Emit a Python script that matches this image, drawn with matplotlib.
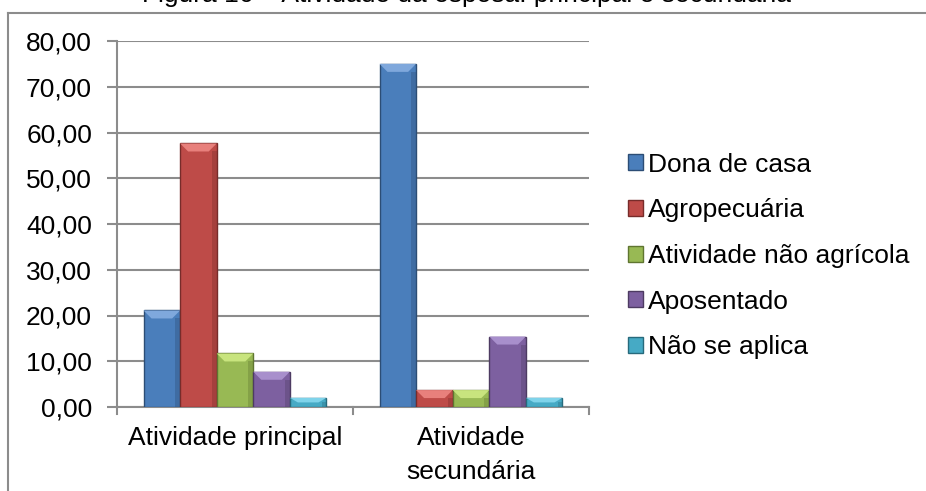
import matplotlib
matplotlib.use("Agg")
from matplotlib import pyplot as plt
from matplotlib.patches import Rectangle, Polygon
from matplotlib.lines import Line2D
import numpy as np

# dados
categorias = ["Atividade principal", "Atividade\nsecundária"]
series = ["Dona de casa", "Agropecuária", "Atividade não agrícola", "Aposentado", "Não se aplica"]
dona_de_casa = [21.1, 75.0]
agropecuaria = [57.6, 3.7]
nao_agricola = [11.7, 3.7]
aposentado = [7.7, 15.4]
nao_se_aplica = [2.0, 2.0]
valores = [dona_de_casa, agropecuaria, nao_agricola, aposentado, nao_se_aplica]
y_ticks = [0, 10, 20, 30, 40, 50, 60, 70, 80]

cores = ["#4A7EBB", "#BE4B48", "#98B954", "#7D60A0", "#46AAC5"]
bordas = ["#2C4D75", "#772C2A", "#5F7530", "#4D3B62", "#276A7C"]
claros = ["#7FA8DC", "#E8807C", "#C8E47E", "#A88FCC", "#7FD3EA"]

plt.rcParams['font.family'] = ['Liberation Sans', 'DejaVu Sans']
fs = 19

fig = plt.figure(figsize=(9.26, 4.91), dpi=100)
ax = fig.add_axes([117/926, 1 - 407/491, (589-117)/926, (407-41)/491])

n = len(series)
w = 1 / 6.45
x = np.arange(len(categorias))
barras = []
for i, (nome, vals) in enumerate(zip(series, valores)):
    pos = x + (i - (n - 1) / 2) * w
    b = ax.bar(pos, vals, width=w, color=cores[i], edgecolor=bordas[i],
               linewidth=1.0, label=nome, zorder=3)
    barras.append(b)

ax.set_xlim(-0.5, len(categorias) - 0.5)
ax.set_ylim(0, 80)
ax.set_yticks(y_ticks)
ax.set_yticklabels([f"{v:.2f}".replace(".", ",") for v in y_ticks], fontsize=fs)
ax.set_xticks(x)
ax.set_xticklabels(categorias, fontsize=fs, linespacing=1.48)
ax.tick_params(axis='x', length=0, pad=14)
ax.tick_params(axis='y', length=7, width=1.5, color="#8C8C8C", pad=11)

# marcas entre categorias
for xb in np.arange(-0.5, len(categorias), 1.0):
    ax.plot([xb, xb], [0, -1.5], color="#8C8C8C", lw=1.5, clip_on=False, zorder=4)

ax.grid(axis='y', color="#8C8C8C", lw=1.5, zorder=0)
ax.set_axisbelow(True)
for s in ["top", "right"]:
    ax.spines[s].set_visible(False)
for s in ["left", "bottom"]:
    ax.spines[s].set_color("#8C8C8C")
    ax.spines[s].set_linewidth(1.5)

# bisel no topo das barras
fig.canvas.draw()
px_x = ax.transData.transform((1, 0))[0] - ax.transData.transform((0, 0))[0]
px_y = ax.transData.transform((0, 1))[1] - ax.transData.transform((0, 0))[1]
dpx = 8
for i, b in enumerate(barras):
    for r in b:
        x0, y1 = r.get_x(), r.get_height()
        x1 = x0 + r.get_width()
        dx = dpx / px_x
        dy = min(dpx / px_y, y1 * 0.5)
        top = Polygon([(x0, y1), (x1, y1), (x1 - dx, y1 - dy), (x0 + dx, y1 - dy)],
                      closed=True, facecolor=claros[i], edgecolor='none', zorder=4)
        ax.add_patch(top)
        sh = Rectangle((x1 - dx * 0.6, 0), dx * 0.6, y1 - dy, facecolor=bordas[i],
                       alpha=0.35, edgecolor='none', zorder=4)
        ax.add_patch(sh)

leg = ax.legend(loc='center left', bbox_to_anchor=(628/926, 1 - 256/491),
                bbox_transform=fig.transFigure, frameon=False, fontsize=fs,
                handlelength=0.55, handleheight=0.55, handletextpad=0.2,
                labelspacing=0.82, borderaxespad=0, borderpad=0)

# moldura do gráfico
fig.add_artist(Line2D([8/926, 8/926], [0, 1 - 12.5/491], color="#8C8C8C", lw=1.5))
fig.add_artist(Line2D([8/926, 1], [1 - 12.5/491, 1 - 12.5/491], color="#8C8C8C", lw=1.5))

fig.text(467/926, 1 - 2/491, "Figura 16 – Atividade da esposa: principal e secundária",
         ha='center', va='baseline', fontsize=fs)

fig.savefig("out.png", dpi=100)
